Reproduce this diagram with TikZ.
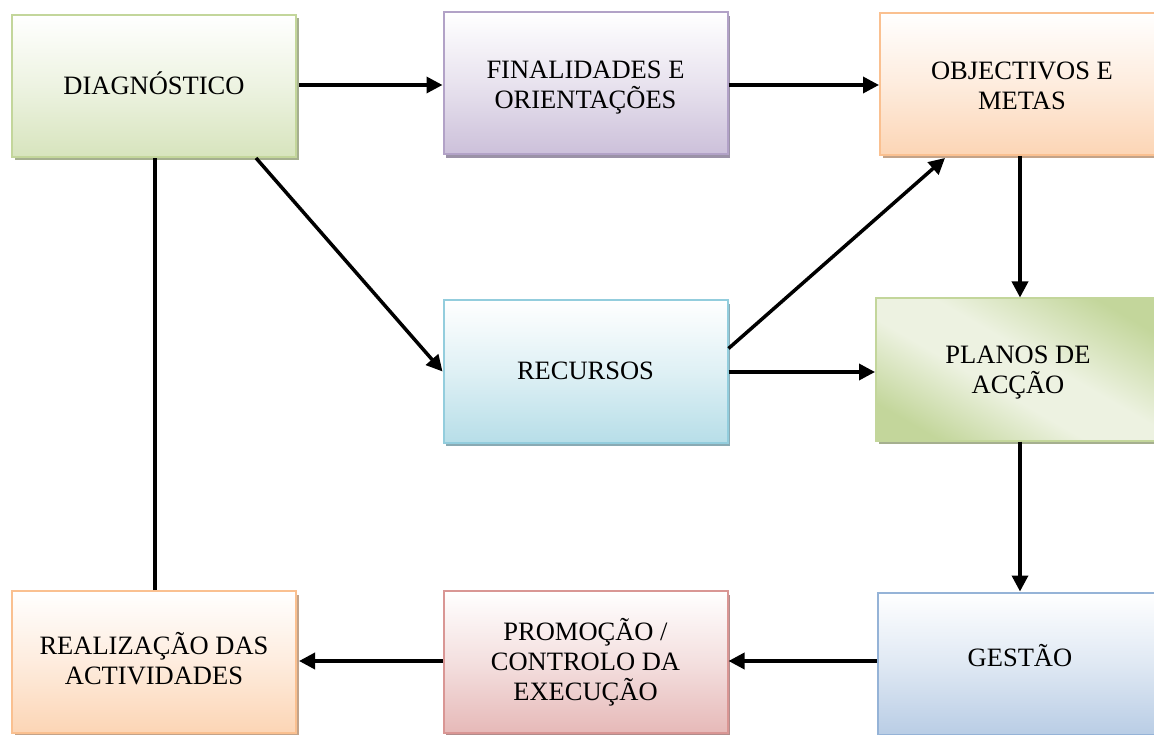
\documentclass[tikz,border=0pt]{standalone}
\usepackage{fontspec}
\setmainfont{Liberation Serif}
\usetikzlibrary{arrows.meta,shadows,calc}
\definecolor{grB}{HTML}{C3D69B}\definecolor{grF}{HTML}{D7E4BD}
\definecolor{puB}{HTML}{B2A2C7}\definecolor{puF}{HTML}{CCC0DA}
\definecolor{orB}{HTML}{FAC090}\definecolor{orF}{HTML}{FCD5B5}
\definecolor{cyB}{HTML}{93CDDD}\definecolor{cyF}{HTML}{B7DEE8}
\definecolor{rdB}{HTML}{D99694}\definecolor{rdF}{HTML}{E6B9B8}
\definecolor{blB}{HTML}{95B3D7}\definecolor{blF}{HTML}{B9CDE5}
\definecolor{pgDark}{HTML}{C3D69B}\definecolor{pgLight}{HTML}{EDF2E1}
\pgfdeclarehorizontalshading{planosshade}{100bp}{color(0bp)=(pgDark); color(24bp)=(pgDark); color(43bp)=(pgLight); color(55bp)=(pgLight); color(76bp)=(pgDark); color(100bp)=(pgDark)}
\tikzset{
  box/.style={rectangle, draw=#1B, line width=2pt, minimum width=284pt, minimum height=142pt,
    inner sep=0pt,
    shading=axis, top color=white, bottom color=#1F, middle color=#1F!45!white,
    general shadow={shadow xshift=2.5pt, shadow yshift=-3.5pt, fill=#1B!55!gray}},
  txt/.style={inner sep=0pt, align=center, font=\fontsize{26.5}{30}\selectfont},
  conn/.style={line width=3.5pt, -{Triangle[length=16pt,width=16pt]}},
  plain/.style={line width=3.5pt}
}
\begin{document}
\begin{tikzpicture}[x=1pt,y=-1pt]
\useasboundingbox[fill=white] (0,0) rectangle (1154,735);
\node[box=gr] (diag) at (154,86) {};
\node[box=pu] (fin) at (585.5,83.5) {};
\node[box=or] (obj) at (1022,84) {};
\node[box=cy] (rec) at (585.5,371.5) {};
\node[box=gr, shading=planosshade, shading angle=60] (plan) at (1018,369.5) {};
\node[box=or] (real) at (154,662) {};
\node[box=rd] (promo) at (585.5,662) {};
\node[box=bl] (gest) at (1020,663.5) {};
\node[txt] (diagT) at ([yshift=3pt]diag.center) {DIAGNÓSTICO};
\node[txt] (finT) at ([yshift=-4pt]fin.center) {FINALIDADES E\\ORIENTAÇÕES};
\node[txt] (objT) at ([yshift=-2pt]obj.center) {OBJECTIVOS E\\METAS};
\node[txt] (recT) at ([yshift=1pt]rec.center) {RECURSOS};
\node[txt] (planT) at ([yshift=-3pt]plan.center) {PLANOS DE\\ACÇÃO};
\node[txt] (realT) at ([yshift=3pt]real.center) {REALIZAÇÃO DAS\\ACTIVIDADES};
\node[txt] (promoT) at (promo.center) {PROMOÇÃO /\\CONTROLO DA\\EXECUÇÃO};
\node[txt] (gestT) at ([yshift=8pt]gest.center) {GESTÃO};
\coordinate (d1) at ([xshift=-41pt]diag.south east);
\coordinate (r1) at ([yshift=23pt]rec.east);
\coordinate (o1) at ([xshift=66pt,yshift=-2pt]obj.south west);
\draw[conn] ([xshift=2pt]diag.east |- 0,85) -- (fin.west |- 0,85);
\draw[conn] (fin.east |- 0,85) -- (obj.west |- 0,85);
\draw[conn] (d1) -- (rec.west);
\draw[conn] (r1) -- (o1);
\draw[conn] (rec.east |- 0,372) -- (plan.west |- 0,372);
\draw[conn] (obj.south -| 1020,0) -- (plan.north -| 1020,0);
\draw[conn] (plan.south -| 1020,0) -- (gest.north -| 1020,0);
\draw[conn] (gest.west |- 0,661) -- (promo.east |- 0,661);
\draw[conn] (promo.west |- 0,661) -- ([xshift=2pt]real.east |- 0,661);
\draw[plain] (real.north -| 155,0) -- (diag.south -| 155,0);
\end{tikzpicture}
\end{document}
